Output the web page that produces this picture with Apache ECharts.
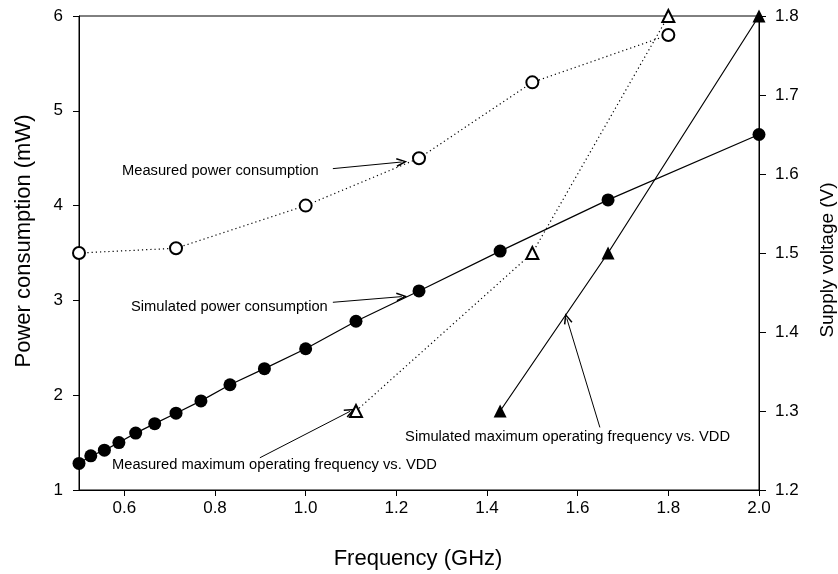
<!DOCTYPE html>
<html>
<head>
<meta charset="utf-8">
<script src="https://cdn.jsdelivr.net/npm/echarts@6/dist/echarts.min.js"></script>
<style>
  html, body { margin: 0; padding: 0; background: #fff; }
  #chart { width: 838px; height: 574px; }
</style>
</head>
<body>
<div id="chart"></div>
<script>
  // simulated power consumption (left axis, mW)
  var simFreq = [0.5, 0.526, 0.556, 0.588, 0.625, 0.667, 0.714, 0.769, 0.833, 0.909, 1.0, 1.111, 1.25, 1.429, 1.667, 2.0];
  var simPower = [1.28, 1.36, 1.42, 1.50, 1.60, 1.70, 1.81, 1.94, 2.11, 2.28, 2.49, 2.78, 3.10, 3.52, 4.06, 4.75];
  // measured power consumption (left axis, mW)
  var measFreq = [0.5, 0.714, 1.0, 1.25, 1.5, 1.8];
  var measPower = [3.5, 3.55, 4.0, 4.5, 5.3, 5.8];
  // max operating frequency vs VDD (right axis, V)
  var measMaxFreq = [1.111, 1.5, 1.8];
  var measVdd = [1.3, 1.5, 1.8];
  var simMaxFreq = [1.429, 1.667, 2.0];
  var simVdd = [1.3, 1.5, 1.8];
  // tick labels
  var xTicks = [0.6, 0.8, 1.0, 1.2, 1.4, 1.6, 1.8, 2.0];
  // annotation arrows, from -> to, in (GHz, mW)
  var arrowFrom = [[1.060, 4.39], [1.060, 2.98], [0.899, 1.34], [1.649, 1.66]];
  var arrowTo = [[1.212, 4.46], [1.212, 3.04], [1.098, 1.83], [1.576, 2.81]];
  var annoText = [
    'Measured power consumption',
    'Simulated power consumption',
    'Measured maximum operating frequency vs. VDD',
    'Simulated maximum operating frequency vs. VDD'
  ];

  function zip(a, b) {
    var out = [];
    for (var i = 0; i < a.length; i++) out.push([a[i], b[i]]);
    return out;
  }

  var font = '"Liberation Sans", Arial, sans-serif';
  var arrows = [];
  for (var i = 0; i < arrowFrom.length; i++) {
    arrows.push([{ coord: arrowFrom[i] }, { coord: arrowTo[i] }]);
  }

  var myChart = echarts.init(document.getElementById('chart'));
  myChart.setOption({
    animation: false,
    textStyle: { fontFamily: font, color: '#000' },
    grid: {
      left: 79, right: 79, top: 16, bottom: 84,
      show: true, borderColor: '#000', borderWidth: 1
    },
    xAxis: {
      type: 'value',
      min: 0.5,
      max: 2.0,
      axisLine: { lineStyle: { color: '#000', width: 1 } },
      axisTick: { show: true, length: 6, customValues: xTicks, lineStyle: { color: '#000' } },
      axisLabel: {
        customValues: xTicks, margin: 10, fontSize: 17, color: '#000',
        formatter: function (v) { return v.toFixed(1); }
      },
      splitLine: { show: false }
    },
    yAxis: [
      {
        type: 'value', min: 1, max: 6, interval: 1,
        axisLine: { show: true, lineStyle: { color: '#000' } },
        axisTick: { show: true, length: 6, lineStyle: { color: '#000' } },
        axisLabel: { margin: 16, fontSize: 17, color: '#000' },
        splitLine: { show: false }
      },
      {
        type: 'value', min: 1.2, max: 1.8, interval: 0.1, position: 'right',
        axisLine: { show: true, lineStyle: { color: '#000' } },
        axisTick: { show: true, length: 7, lineStyle: { color: '#000' } },
        axisLabel: {
          margin: 16, fontSize: 17, color: '#000',
          formatter: function (v) { return v.toFixed(1); }
        },
        splitLine: { show: false }
      }
    ],
    graphic: [
      { type: 'text', x: 418, y: 559, style: { text: 'Frequency (GHz)', font: '22px ' + font, fill: '#000', align: 'center', verticalAlign: 'middle' } },
      { type: 'text', x: 24, y: 241, rotation: Math.PI / 2, style: { text: 'Power consumption (mW)', font: '22px ' + font, fill: '#000', align: 'center', verticalAlign: 'middle' } },
      { type: 'text', x: 828, y: 260, rotation: Math.PI / 2, style: { text: 'Supply voltage (V)', font: '19px ' + font, fill: '#000', align: 'center', verticalAlign: 'middle' } },
      { type: 'text', x: 122, y: 171, style: { text: annoText[0], font: '14.7px ' + font, fill: '#000', verticalAlign: 'middle' } },
      { type: 'text', x: 131, y: 307, style: { text: annoText[1], font: '14.7px ' + font, fill: '#000', verticalAlign: 'middle' } },
      { type: 'text', x: 112, y: 465, style: { text: annoText[2], font: '14.7px ' + font, fill: '#000', verticalAlign: 'middle' } },
      { type: 'text', x: 730, y: 437, style: { text: annoText[3], font: '14.7px ' + font, fill: '#000', align: 'right', verticalAlign: 'middle' } }
    ],
    series: [
      {
        name: 'Measured power',
        type: 'line',
        data: zip(measFreq, measPower),
        symbol: 'emptyCircle',
        symbolSize: 12,
        lineStyle: { color: '#000', width: 1.2, type: [1.2, 3] },
        itemStyle: { color: '#000', borderWidth: 1.2 }
      },
      {
        name: 'Measured max freq',
        type: 'line',
        yAxisIndex: 1,
        data: zip(measMaxFreq, measVdd),
        symbol: 'emptyTriangle',
        symbolSize: 12,
        clip: false,
        lineStyle: { color: '#000', width: 1.2, type: [1.2, 3] },
        itemStyle: { color: '#000', borderWidth: 1.2 }
      },
      {
        name: 'Simulated max freq',
        type: 'line',
        yAxisIndex: 1,
        data: zip(simMaxFreq, simVdd),
        symbol: 'triangle',
        symbolSize: 13,
        clip: false,
        lineStyle: { color: '#000', width: 1.2 },
        itemStyle: { color: '#000' }
      },
      {
        name: 'Simulated power',
        type: 'line',
        data: zip(simFreq, simPower),
        symbol: 'circle',
        symbolSize: 13,
        clip: false,
        lineStyle: { color: '#000', width: 1.2 },
        itemStyle: { color: '#000' },
        markLine: {
          silent: true,
          symbol: ['none', 'path://M0,11L5,0L10,11L8.4,11.7L5,3.8L1.6,11.7Z'],
          symbolSize: [9, 11],
          label: { show: false },
          lineStyle: { color: '#000', width: 1, type: 'solid' },
          data: arrows
        }
      }
    ]
  });
</script>
</body>
</html>
